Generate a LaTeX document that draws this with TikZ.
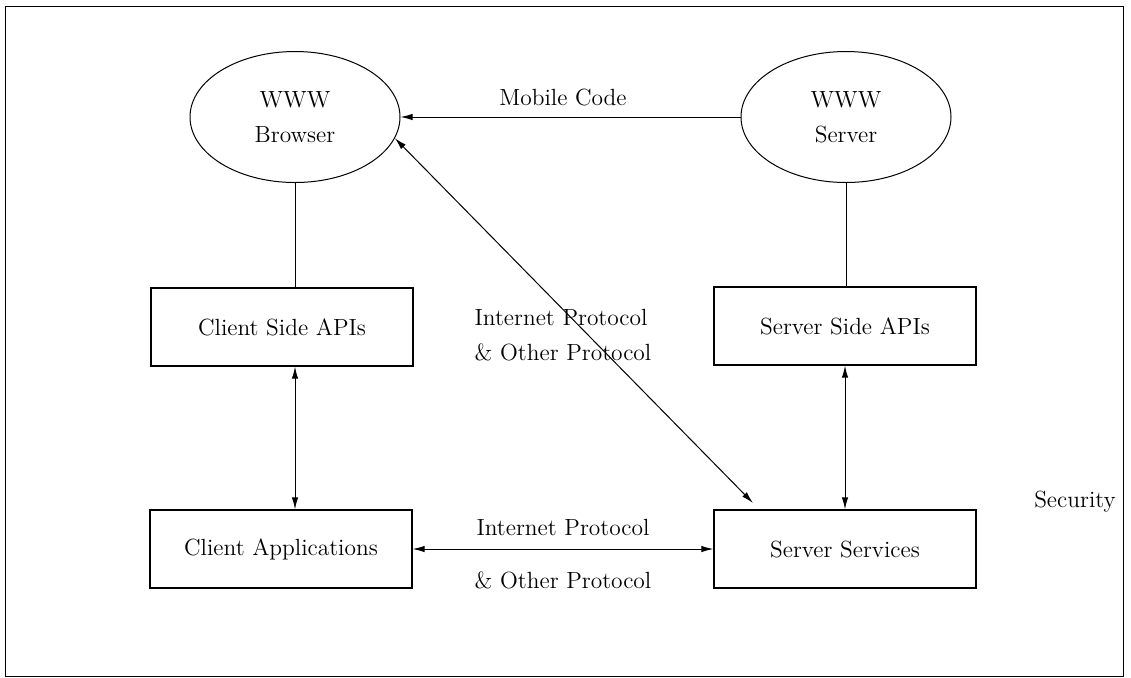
\documentclass[tikz,border=0pt]{standalone}
\usetikzlibrary{shapes.geometric,arrows.meta}
\tikzset{
  wwwnode/.style={ellipse,draw,line width=0.5pt,minimum width=105pt,minimum height=65.5pt,inner sep=0pt,align=center},
  blockbox/.style={rectangle,draw,line width=0.6pt,minimum width=131pt,minimum height=39pt,inner sep=0pt},
  link/.style={line width=0.5pt},
  duplex/.style={line width=0.5pt,{Latex[length=6pt,width=3.2pt]}-{Latex[length=6pt,width=3.2pt]}},
  oneway/.style={line width=0.5pt,-{Latex[length=6pt,width=3.2pt]}},
}
\begin{document}
\begin{tikzpicture}[x=0.5pt,y=-0.5pt,every node/.style={font=\fontsize{11.7}{17.5}\selectfont}]
        \useasboundingbox (0,0) rectangle (1131,677);
        \draw [line width=0.5pt] (5,6) rectangle (1123,676);
        \node (browser) at (295,117) [wwwnode] {WWW\\Browser};
        \node (server) at (846,117) [wwwnode] {WWW\\Server};
        \node (capi) at (282,327) [blockbox] {Client Side APIs};
        \node (sapi) at (845,326) [blockbox] {Server Side APIs};
        \node (capp) at (281,549) [blockbox] {Client Applications};
        \node (ssvc) at (845,549) [blockbox] {Server Services};
        \node (security) at (1075,502) {Security};
        \node (mobilelbl) at (563,97) {Mobile Code};
        \node (midlbl) at (563,335) [align=left] {Internet Protocol\\\& Other Protocol};
        \node (toplbl) at (563,527) {Internet Protocol};
        \node (botlbl) at (563,580) {\& Other Protocol};
        \coordinate (diagend) at (753,503);
        \draw [link] (browser.south) -- (browser.south |- capi.north);
        \draw [link] (server.south) -- (server.south |- sapi.north);
        \draw [duplex] (browser.south |- capi.south) -- (browser.south |- capp.north);
        \draw [duplex] (sapi.south) -- (ssvc.north);
        \draw [oneway] (server.west) -- (browser.east);
        \draw [duplex] (browser.-12) -- (diagend);
        \draw [duplex] (capp.east) -- (ssvc.west);
      \end{tikzpicture}
\end{document}
